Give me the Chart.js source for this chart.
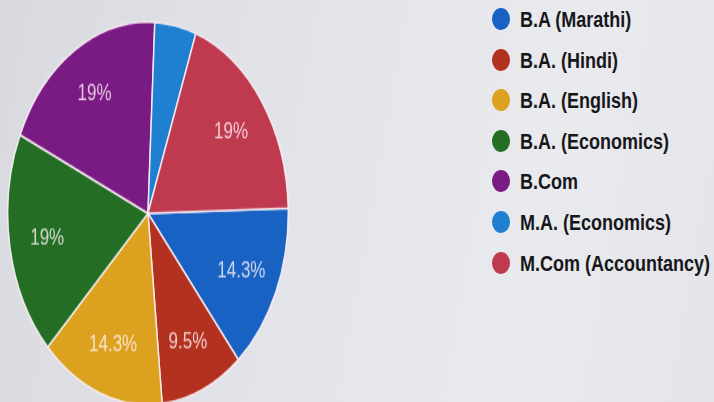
<!DOCTYPE html>
<html>
<head>
<meta charset="utf-8">
<script src="https://cdn.jsdelivr.net/npm/chart.js@4"></script>
<style>
  html, body { margin: 0; padding: 0; }
  body {
    width: 714px; height: 402px; overflow: hidden; position: relative;
    background: linear-gradient(100deg, #d9dadf 0%, #e4e5ea 45%, #e9eaee 75%, #e4e5ea 100%);
    font-family: "Liberation Sans", Arial, sans-serif;
  }
  /* photo squashes the pie horizontally, so stretch it vertically */
  #pieWrap {
    position: absolute; left: 7px; top: 21px;
    width: 282px; height: 282px;
    transform: scaleY(1.364); transform-origin: 0 0;
  }
  #legend { position: absolute; left: 0; top: 0; margin: 0; padding: 0; list-style: none; }
  #legend li { position: absolute; left: 492px; height: 22px; white-space: nowrap; }
  #legend .dot { position: absolute; left: 0; top: 0; width: 18px; height: 22px; border-radius: 50%; }
  #legend .txt {
    position: absolute; left: 28px; top: 0; line-height: 22px;
    font-size: 18px; font-weight: bold; color: #17171a;
    transform: scaleY(1.25); transform-origin: 0 50%;
  }
</style>
</head>
<body>
<div id="pieWrap"><canvas id="pie"></canvas></div>
<ul id="legend"></ul>
<script>
// === DATA ===
const courses = ['B.A (Marathi)', 'B.A. (Hindi)', 'B.A. (English)', 'B.A. (Economics)', 'B.Com', 'M.A. (Economics)', 'M.Com (Accountancy)'];
const students = [3, 2, 3, 4, 4, 1, 4];
const colours = ['#1862c4', '#b3321f', '#dca21f', '#236e24', '#7a1b83', '#1f80d2', '#bf3a4f'];

// === PERCENT LABELS INSIDE SLICES ===
const pctLabels = {
  id: 'pctLabels',
  afterDatasetsDraw(chart) {
    const ctx = chart.ctx;
    const vals = chart.data.datasets[0].data;
    const total = vals.reduce(function(a, b) { return a + b; }, 0);
    ctx.save();
    ctx.font = '17px "Liberation Sans", Arial, sans-serif';
    ctx.fillStyle = 'rgba(255,242,248,0.8)';
    ctx.textAlign = 'center';
    ctx.textBaseline = 'middle';
    chart.getDatasetMeta(0).data.forEach(function(arc, i) {
      const pct = vals[i] / total * 100;
      if (pct < 5) return;
      const mid = (arc.startAngle + arc.endAngle) / 2;
      const r = arc.outerRadius * 0.73;
      ctx.fillText(parseFloat(pct.toFixed(1)) + '%', arc.x + Math.cos(mid) * r, arc.y + Math.sin(mid) * r);
    });
    ctx.restore();
  }
};

new Chart(document.getElementById('pie'), {
  type: 'pie',
  data: {
    labels: courses,
    datasets: [{
      data: students,
      backgroundColor: colours,
      borderColor: 'rgba(250,240,245,0.9)',
      borderWidth: 1.5
    }]
  },
  options: {
    responsive: true,
    maintainAspectRatio: false,
    animation: false,
    rotation: 88.5,
    plugins: {
      legend: { display: false },
      tooltip: { enabled: false }
    }
  },
  plugins: [pctLabels]
});

// === LEGEND ===
const legend = document.getElementById('legend');
courses.forEach(function(name, i) {
  const li = document.createElement('li');
  li.style.top = (8 + i * 40.6) + 'px';
  const dot = document.createElement('span');
  dot.className = 'dot';
  dot.style.background = colours[i];
  const txt = document.createElement('span');
  txt.className = 'txt';
  txt.textContent = name;
  li.appendChild(dot);
  li.appendChild(txt);
  legend.appendChild(li);
});
</script>
</body>
</html>
